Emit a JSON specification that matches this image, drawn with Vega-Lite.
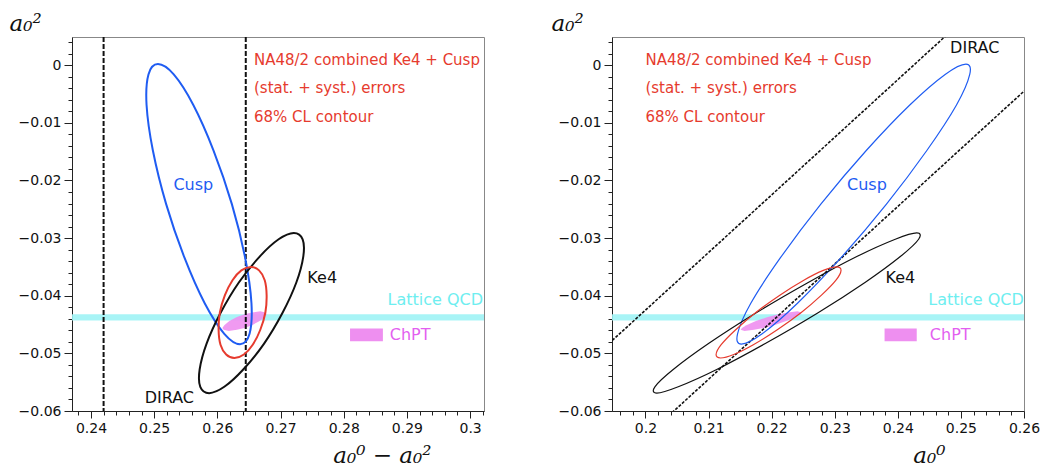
{
  "$schema": "https://vega.github.io/schema/vega-lite/v6.json",
  "padding": {"left": 8, "top": 11, "right": 0, "bottom": 0},
  "spacing": 65,
  "config": {
    "view": {"stroke": "#888888", "strokeWidth": 1},
    "axis": {
      "labelFont": "DejaVu Sans", "labelFontSize": 14, "labelColor": "#111111",
      "titleFont": "DejaVu Serif", "titleFontStyle": "italic", "titleFontWeight": "normal",
      "titleFontSize": 23, "titleColor": "#111111",
      "domainColor": "#222222", "tickColor": "#222222", "grid": false,
      "labelOverlap": false, "labelFlush": false, "labelPadding": 3
    }
  },
  "resolve": {"scale": {"x": "independent", "y": "independent"}},
  "datasets": {
    "band": [{"lo": -0.0443, "hi": -0.0432}],
    "diracL": [{"d": 0.242}, {"d": 0.2645}],
    "diracR": [
      {"s": "D1", "k": 0, "a0": 0.19, "a2": -0.0525},
      {"s": "D1", "k": 1, "a0": 0.25, "a2": 0.0075},
      {"s": "D2", "k": 0, "a0": 0.2, "a2": -0.0645},
      {"s": "D2", "k": 1, "a0": 0.265, "a2": 0.0005}
    ],
    "box": [
      {"p": "L", "x1": 0.281, "x2": 0.2862, "y1": -0.0479, "y2": -0.0457},
      {"p": "R", "x1": 0.2379, "x2": 0.243, "y1": -0.0479, "y2": -0.0457}
    ],
    "chpt": [
      {"a2": -0.0461, "a0lo": 0.2157, "a0hi": 0.2157, "dlo": 0.2618, "dhi": 0.2618},
      {"a2": -0.0459, "a0lo": 0.2151, "a0hi": 0.2172, "dlo": 0.261, "dhi": 0.2631},
      {"a2": -0.0456, "a0lo": 0.2153, "a0hi": 0.2187, "dlo": 0.2608, "dhi": 0.2643},
      {"a2": -0.0451, "a0lo": 0.216, "a0hi": 0.2204, "dlo": 0.2611, "dhi": 0.2655},
      {"a2": -0.0444, "a0lo": 0.2175, "a0hi": 0.2223, "dlo": 0.2619, "dhi": 0.2667},
      {"a2": -0.0437, "a0lo": 0.2194, "a0hi": 0.2238, "dlo": 0.2631, "dhi": 0.2675},
      {"a2": -0.0432, "a0lo": 0.2211, "a0hi": 0.2246, "dlo": 0.2643, "dhi": 0.2678},
      {"a2": -0.0429, "a0lo": 0.2226, "a0hi": 0.2247, "dlo": 0.2655, "dhi": 0.2676},
      {"a2": -0.0427, "a0lo": 0.2241, "a0hi": 0.2241, "dlo": 0.2668, "dhi": 0.2668}
    ],
    "ell": [
      {"s": "Cusp", "k": 0, "a0": 0.2508, "a2": 0.0002, "d": 0.2506},
      {"s": "Cusp", "k": 1, "a0": 0.2514, "a2": -0.0016, "d": 0.2531},
      {"s": "Cusp", "k": 2, "a0": 0.2493, "a2": -0.0069, "d": 0.2562},
      {"s": "Cusp", "k": 3, "a0": 0.2446, "a2": -0.0148, "d": 0.2594},
      {"s": "Cusp", "k": 4, "a0": 0.2382, "a2": -0.0241, "d": 0.2623},
      {"s": "Cusp", "k": 5, "a0": 0.231, "a2": -0.0334, "d": 0.2644},
      {"s": "Cusp", "k": 6, "a0": 0.2241, "a2": -0.0413, "d": 0.2654},
      {"s": "Cusp", "k": 7, "a0": 0.2185, "a2": -0.0466, "d": 0.2651},
      {"s": "Cusp", "k": 8, "a0": 0.2152, "a2": -0.0484, "d": 0.2636},
      {"s": "Cusp", "k": 9, "a0": 0.2146, "a2": -0.0466, "d": 0.2611},
      {"s": "Cusp", "k": 10, "a0": 0.2167, "a2": -0.0413, "d": 0.258},
      {"s": "Cusp", "k": 11, "a0": 0.2214, "a2": -0.0334, "d": 0.2548},
      {"s": "Cusp", "k": 12, "a0": 0.2278, "a2": -0.0241, "d": 0.2519},
      {"s": "Cusp", "k": 13, "a0": 0.235, "a2": -0.0148, "d": 0.2498},
      {"s": "Cusp", "k": 14, "a0": 0.2419, "a2": -0.0069, "d": 0.2488},
      {"s": "Cusp", "k": 15, "a0": 0.2475, "a2": -0.0016, "d": 0.2491},
      {"s": "Ke4", "k": 0, "a0": 0.243, "a2": -0.0291, "d": 0.2721},
      {"s": "Ke4", "k": 1, "a0": 0.2433, "a2": -0.0302, "d": 0.2735},
      {"s": "Ke4", "k": 2, "a0": 0.2404, "a2": -0.0332, "d": 0.2736},
      {"s": "Ke4", "k": 3, "a0": 0.2348, "a2": -0.0377, "d": 0.2725},
      {"s": "Ke4", "k": 4, "a0": 0.2273, "a2": -0.043, "d": 0.2703},
      {"s": "Ke4", "k": 5, "a0": 0.219, "a2": -0.0483, "d": 0.2674},
      {"s": "Ke4", "k": 6, "a0": 0.2113, "a2": -0.0528, "d": 0.2641},
      {"s": "Ke4", "k": 7, "a0": 0.2052, "a2": -0.0558, "d": 0.2611},
      {"s": "Ke4", "k": 8, "a0": 0.2018, "a2": -0.0569, "d": 0.2587},
      {"s": "Ke4", "k": 9, "a0": 0.2015, "a2": -0.0558, "d": 0.2573},
      {"s": "Ke4", "k": 10, "a0": 0.2044, "a2": -0.0528, "d": 0.2572},
      {"s": "Ke4", "k": 11, "a0": 0.21, "a2": -0.0483, "d": 0.2583},
      {"s": "Ke4", "k": 12, "a0": 0.2175, "a2": -0.043, "d": 0.2605},
      {"s": "Ke4", "k": 13, "a0": 0.2258, "a2": -0.0377, "d": 0.2634},
      {"s": "Ke4", "k": 14, "a0": 0.2335, "a2": -0.0332, "d": 0.2667},
      {"s": "Ke4", "k": 15, "a0": 0.2396, "a2": -0.0302, "d": 0.2697},
      {"s": "Comb", "k": 0, "a0": 0.2303, "a2": -0.035, "d": 0.2653},
      {"s": "Comb", "k": 1, "a0": 0.231, "a2": -0.0356, "d": 0.2666},
      {"s": "Comb", "k": 2, "a0": 0.2302, "a2": -0.0373, "d": 0.2675},
      {"s": "Comb", "k": 3, "a0": 0.2279, "a2": -0.0399, "d": 0.2678},
      {"s": "Comb", "k": 4, "a0": 0.2247, "a2": -0.0429, "d": 0.2676},
      {"s": "Comb", "k": 5, "a0": 0.2209, "a2": -0.0459, "d": 0.2668},
      {"s": "Comb", "k": 6, "a0": 0.2171, "a2": -0.0485, "d": 0.2656},
      {"s": "Comb", "k": 7, "a0": 0.214, "a2": -0.0502, "d": 0.2642},
      {"s": "Comb", "k": 8, "a0": 0.2119, "a2": -0.0508, "d": 0.2627},
      {"s": "Comb", "k": 9, "a0": 0.2112, "a2": -0.0502, "d": 0.2614},
      {"s": "Comb", "k": 10, "a0": 0.212, "a2": -0.0485, "d": 0.2605},
      {"s": "Comb", "k": 11, "a0": 0.2143, "a2": -0.0459, "d": 0.2602},
      {"s": "Comb", "k": 12, "a0": 0.2175, "a2": -0.0429, "d": 0.2604},
      {"s": "Comb", "k": 13, "a0": 0.2213, "a2": -0.0399, "d": 0.2612},
      {"s": "Comb", "k": 14, "a0": 0.2251, "a2": -0.0373, "d": 0.2624},
      {"s": "Comb", "k": 15, "a0": 0.2282, "a2": -0.0356, "d": 0.2638}
    ],
    "labels": [
      {"p": "L", "label": "Cusp", "x": 0.2562, "y": -0.0208, "s": "Cusp"},
      {"p": "L", "label": "Ke4", "x": 0.2766, "y": -0.0369, "s": "Ke4"},
      {"p": "L", "label": "DIRAC", "x": 0.2524, "y": -0.0577, "s": "DIRAC"},
      {"p": "L", "label": "Lattice QCD", "x": 0.2945, "y": -0.0407, "s": "Lattice"},
      {"p": "L", "label": "ChPT", "x": 0.2905, "y": -0.0468, "s": "ChPT"},
      {"p": "R", "label": "Cusp", "x": 0.2351, "y": -0.0208, "s": "Cusp"},
      {"p": "R", "label": "Ke4", "x": 0.2404, "y": -0.0369, "s": "Ke4"},
      {"p": "R", "label": "DIRAC", "x": 0.2522, "y": 0.003, "s": "DIRAC"},
      {"p": "R", "label": "Lattice QCD", "x": 0.2524, "y": -0.0407, "s": "Lattice"},
      {"p": "R", "label": "ChPT", "x": 0.2483, "y": -0.0468, "s": "ChPT"}
    ],
    "notes": [
      {"p": "L", "label": "NA48/2 combined Ke4 + Cusp", "x": 0.2658, "y": 0.0009},
      {"p": "L", "label": "(stat. + syst.) errors", "x": 0.2658, "y": -0.004},
      {"p": "L", "label": "68% CL contour", "x": 0.2658, "y": -0.009},
      {"p": "R", "label": "NA48/2 combined Ke4 + Cusp", "x": 0.2, "y": 0.0009},
      {"p": "R", "label": "(stat. + syst.) errors", "x": 0.2, "y": -0.004},
      {"p": "R", "label": "68% CL contour", "x": 0.2, "y": -0.009}
    ]
  },
  "hconcat": [
    {
      "width": 412,
      "height": 374,
      "resolve": {"axis": {"x": "independent", "y": "independent"}},
      "layer": [
        {
          "data": {"name": "band"},
          "mark": {"type": "rect", "color": "#9ef3f5", "opacity": 0.9},
          "encoding": {
            "y": {"field": "lo", "type": "quantitative", "scale": {"domain": [-0.06, 0.0049], "nice": false, "zero": false}, "axis": null},
            "y2": {"field": "hi"}
          }
        },
        {
          "data": {"name": "chpt"},
          "mark": {"type": "area", "orient": "horizontal", "color": "#ee8ff0", "opacity": 0.9},
          "encoding": {
            "y": {
              "field": "a2", "type": "quantitative",
              "scale": {"domain": [-0.06, 0.0049], "nice": false, "zero": false},
              "axis": {
                "orient": "left",
                "values": [-0.06,-0.05,-0.04,-0.03,-0.02,-0.01,0],
                "format": "~g", "tickSize": 8, "labelOverlap": false,
                "title": "a₀²",
                "titleAngle": 0, "titleX": -63, "titleY": -7, "titleAlign": "left", "titleBaseline": "alphabetic"
              }
            },
            "x": {
              "field": "dlo", "type": "quantitative",
              "scale": {"domain": [0.237, 0.3022], "nice": false, "zero": false},
              "axis": {
                "orient": "bottom",
                "values": [0.24,0.25,0.26,0.27,0.28,0.29,0.3],
                "format": "~g", "tickSize": 7, "labelOverlap": false,
                "title": "a₀⁰ − a₀²",
                "titleX": 359, "titleY": 51, "titleAlign": "right", "titleBaseline": "alphabetic"
              }
            },
            "x2": {"field": "dhi"}
          }
        },
        {
          "data": {"name": "box"},
          "transform": [{"filter": "datum.p === 'L'"}],
          "mark": {"type": "rect", "color": "#ee8ff0"},
          "encoding": {
            "x": {"field": "x1", "type": "quantitative", "scale": {"domain": [0.237, 0.3022], "nice": false, "zero": false},
              "axis": {"orient": "bottom", "values": [0.238,0.242,0.244,0.246,0.248,0.252,0.254,0.256,0.258,0.262,0.264,0.266,0.268,0.272,0.274,0.276,0.278,0.282,0.284,0.286,0.288,0.292,0.294,0.296,0.298,0.302], "labels": false, "tickSize": 4, "domain": false, "title": null}},
            "x2": {"field": "x2"},
            "y": {"field": "y1", "type": "quantitative", "scale": {"domain": [-0.06, 0.0049], "nice": false, "zero": false},
              "axis": {"orient": "left", "values": [-0.058,-0.056,-0.054,-0.052,-0.048,-0.046,-0.044,-0.042,-0.038,-0.036,-0.034,-0.032,-0.028,-0.026,-0.024,-0.022,-0.018,-0.016,-0.014,-0.012,-0.008,-0.006,-0.004,-0.002,0.002,0.004], "labels": false, "tickSize": 4, "domain": false, "title": null}},
            "y2": {"field": "y2"}
          }
        },
        {
          "data": {"name": "diracL"},
          "mark": {"type": "rule", "strokeWidth": 2, "strokeDash": [5, 2], "color": "#111111"},
          "encoding": {
            "x": {"field": "d", "type": "quantitative", "scale": {"domain": [0.237, 0.3022], "nice": false, "zero": false}, "axis": null}
          }
        },
        {
          "data": {"name": "ell"},
          "mark": {"type": "line", "interpolate": "cardinal-closed", "strokeWidth": 2, "clip": true},
          "encoding": {
            "x": {"field": "d", "type": "quantitative", "scale": {"domain": [0.237, 0.3022], "nice": false, "zero": false}, "axis": null},
            "y": {"field": "a2", "type": "quantitative", "scale": {"domain": [-0.06, 0.0049], "nice": false, "zero": false}, "axis": null},
            "order": {"field": "k", "type": "quantitative"},
            "color": {"field": "s", "type": "nominal", "legend": null,
              "scale": {"domain": ["Cusp","Ke4","Comb","DIRAC","Lattice","ChPT"], "range": ["#1f5cf2","#111111","#e63b2e","#111111","#6eeef0","#e35ff0"]}}
          }
        },
        {
          "data": {"name": "labels"},
          "transform": [{"filter": "datum.p === 'L'"}],
          "mark": {"type": "text", "font": "DejaVu Sans", "fontSize": 16, "align": "center", "baseline": "middle"},
          "encoding": {
            "x": {"field": "x", "type": "quantitative", "scale": {"domain": [0.237, 0.3022], "nice": false, "zero": false}, "axis": null},
            "y": {"field": "y", "type": "quantitative", "scale": {"domain": [-0.06, 0.0049], "nice": false, "zero": false}, "axis": null},
            "text": {"field": "label"},
            "color": {"field": "s", "type": "nominal", "legend": null,
              "scale": {"domain": ["Cusp","Ke4","Comb","DIRAC","Lattice","ChPT"], "range": ["#1f5cf2","#111111","#e63b2e","#111111","#6eeef0","#e35ff0"]}}
          }
        },
        {
          "data": {"name": "notes"},
          "transform": [{"filter": "datum.p === 'L'"}],
          "mark": {"type": "text", "font": "DejaVu Sans", "fontSize": 15, "align": "left", "baseline": "middle", "color": "#e63b2e"},
          "encoding": {
            "x": {"field": "x", "type": "quantitative", "scale": {"domain": [0.237, 0.3022], "nice": false, "zero": false}, "axis": null},
            "y": {"field": "y", "type": "quantitative", "scale": {"domain": [-0.06, 0.0049], "nice": false, "zero": false}, "axis": null},
            "text": {"field": "label"}
          }
        }
      ]
    },
    {
      "width": 412,
      "height": 374,
      "resolve": {"axis": {"x": "independent", "y": "independent"}},
      "layer": [
        {
          "data": {"name": "band"},
          "mark": {"type": "rect", "color": "#9ef3f5", "opacity": 0.9},
          "encoding": {
            "y": {"field": "lo", "type": "quantitative", "scale": {"domain": [-0.06, 0.0049], "nice": false, "zero": false}, "axis": null},
            "y2": {"field": "hi"}
          }
        },
        {
          "data": {"name": "chpt"},
          "mark": {"type": "area", "orient": "horizontal", "color": "#ee8ff0", "opacity": 0.9},
          "encoding": {
            "y": {
              "field": "a2", "type": "quantitative",
              "scale": {"domain": [-0.06, 0.0049], "nice": false, "zero": false},
              "axis": {
                "orient": "left",
                "values": [-0.06,-0.05,-0.04,-0.03,-0.02,-0.01,0],
                "format": "~g", "tickSize": 8, "labelOverlap": false,
                "title": "a₀²",
                "titleAngle": 0, "titleX": -61, "titleY": -7, "titleAlign": "left", "titleBaseline": "alphabetic"
              }
            },
            "x": {
              "field": "a0lo", "type": "quantitative",
              "scale": {"domain": [0.1947, 0.26], "nice": false, "zero": false},
              "axis": {
                "orient": "bottom",
                "values": [0.2,0.21,0.22,0.23,0.24,0.25,0.26],
                "format": "~g", "tickSize": 7, "labelOverlap": false,
                "title": "a₀⁰",
                "titleX": 333, "titleY": 51, "titleAlign": "right", "titleBaseline": "alphabetic"
              }
            },
            "x2": {"field": "a0hi"}
          }
        },
        {
          "data": {"name": "box"},
          "transform": [{"filter": "datum.p === 'R'"}],
          "mark": {"type": "rect", "color": "#ee8ff0"},
          "encoding": {
            "x": {"field": "x1", "type": "quantitative", "scale": {"domain": [0.1947, 0.26], "nice": false, "zero": false},
              "axis": {"orient": "bottom", "values": [0.196,0.198,0.202,0.204,0.206,0.208,0.212,0.214,0.216,0.218,0.222,0.224,0.226,0.228,0.232,0.234,0.236,0.238,0.242,0.244,0.246,0.248,0.252,0.254,0.256,0.258], "labels": false, "tickSize": 4, "domain": false, "title": null}},
            "x2": {"field": "x2"},
            "y": {"field": "y1", "type": "quantitative", "scale": {"domain": [-0.06, 0.0049], "nice": false, "zero": false},
              "axis": {"orient": "left", "values": [-0.058,-0.056,-0.054,-0.052,-0.048,-0.046,-0.044,-0.042,-0.038,-0.036,-0.034,-0.032,-0.028,-0.026,-0.024,-0.022,-0.018,-0.016,-0.014,-0.012,-0.008,-0.006,-0.004,-0.002,0.002,0.004], "labels": false, "tickSize": 4, "domain": false, "title": null}},
            "y2": {"field": "y2"}
          }
        },
        {
          "data": {"name": "diracR"},
          "mark": {"type": "line", "strokeWidth": 1.6, "strokeDash": [3, 1.5], "color": "#111111", "clip": true},
          "encoding": {
            "x": {"field": "a0", "type": "quantitative", "scale": {"domain": [0.1947, 0.26], "nice": false, "zero": false}, "axis": null},
            "y": {"field": "a2", "type": "quantitative", "scale": {"domain": [-0.06, 0.0049], "nice": false, "zero": false}, "axis": null},
            "detail": {"field": "s"},
            "order": {"field": "k", "type": "quantitative"}
          }
        },
        {
          "data": {"name": "ell"},
          "mark": {"type": "line", "interpolate": "cardinal-closed", "strokeWidth": 1.2, "clip": true},
          "encoding": {
            "x": {"field": "a0", "type": "quantitative", "scale": {"domain": [0.1947, 0.26], "nice": false, "zero": false}, "axis": null},
            "y": {"field": "a2", "type": "quantitative", "scale": {"domain": [-0.06, 0.0049], "nice": false, "zero": false}, "axis": null},
            "order": {"field": "k", "type": "quantitative"},
            "color": {"field": "s", "type": "nominal", "legend": null,
              "scale": {"domain": ["Cusp","Ke4","Comb","DIRAC","Lattice","ChPT"], "range": ["#1f5cf2","#111111","#e63b2e","#111111","#6eeef0","#e35ff0"]}}
          }
        },
        {
          "data": {"name": "labels"},
          "transform": [{"filter": "datum.p === 'R'"}],
          "mark": {"type": "text", "font": "DejaVu Sans", "fontSize": 16, "align": "center", "baseline": "middle"},
          "encoding": {
            "x": {"field": "x", "type": "quantitative", "scale": {"domain": [0.1947, 0.26], "nice": false, "zero": false}, "axis": null},
            "y": {"field": "y", "type": "quantitative", "scale": {"domain": [-0.06, 0.0049], "nice": false, "zero": false}, "axis": null},
            "text": {"field": "label"},
            "color": {"field": "s", "type": "nominal", "legend": null,
              "scale": {"domain": ["Cusp","Ke4","Comb","DIRAC","Lattice","ChPT"], "range": ["#1f5cf2","#111111","#e63b2e","#111111","#6eeef0","#e35ff0"]}}
          }
        },
        {
          "data": {"name": "notes"},
          "transform": [{"filter": "datum.p === 'R'"}],
          "mark": {"type": "text", "font": "DejaVu Sans", "fontSize": 15, "align": "left", "baseline": "middle", "color": "#e63b2e"},
          "encoding": {
            "x": {"field": "x", "type": "quantitative", "scale": {"domain": [0.1947, 0.26], "nice": false, "zero": false}, "axis": null},
            "y": {"field": "y", "type": "quantitative", "scale": {"domain": [-0.06, 0.0049], "nice": false, "zero": false}, "axis": null},
            "text": {"field": "label"}
          }
        }
      ]
    }
  ]
}
